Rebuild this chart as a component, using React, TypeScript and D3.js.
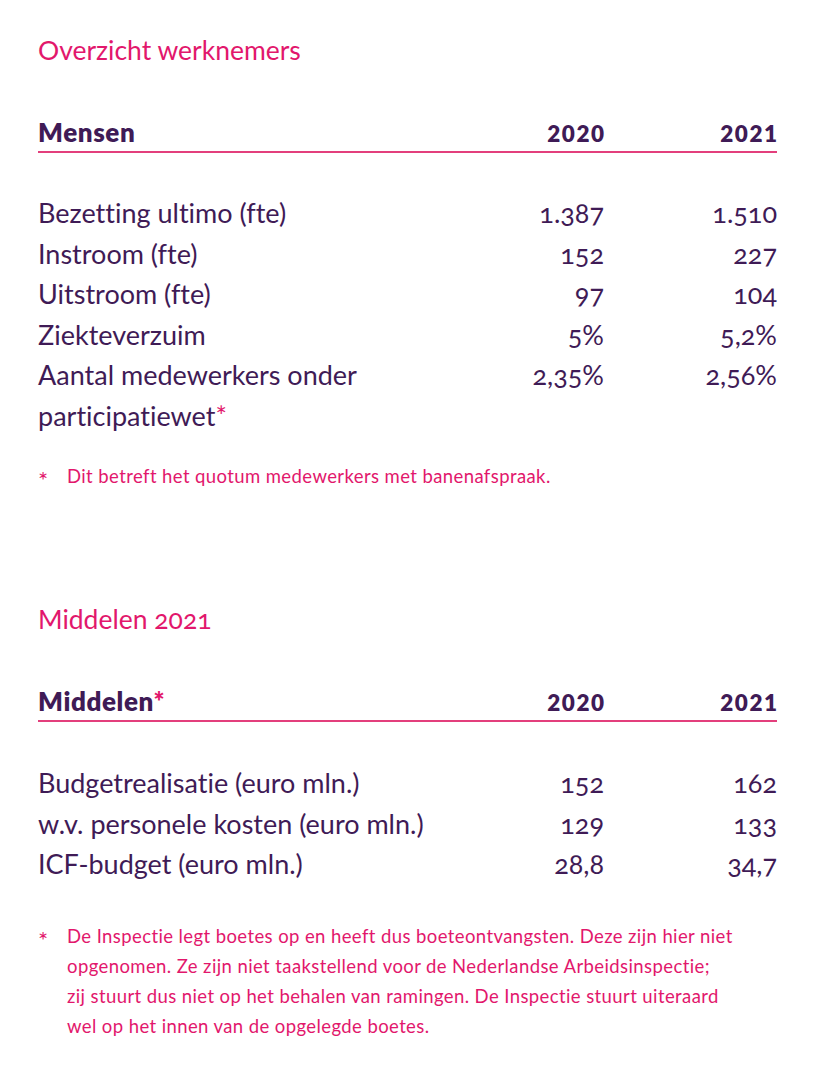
import React from "react";
import * as d3 from "d3";

const title1 = "Overzicht werknemers";
const header1 = "Mensen";
const years = ["2020", "2021"];
const peopleLabels = [
  ["Bezetting ultimo (fte)"],
  ["Instroom (fte)"],
  ["Uitstroom (fte)"],
  ["Ziekteverzuim"],
  ["Aantal medewerkers onder", "participatiewet*"],
];
const people2020 = ["1.387", "152", "97", "5%", "2,35%"];
const people2021 = ["1.510", "227", "104", "5,2%", "2,56%"];
const footnote1 = ["Dit betreft het quotum medewerkers met banenafspraak."];

const title2 = "Middelen 2021";
const header2 = "Middelen*";
const meansLabels = [
  ["Budgetrealisatie (euro mln.)"],
  ["w.v. personele kosten (euro mln.)"],
  ["ICF-budget (euro mln.)"],
];
const means2020 = ["152", "129", "28,8"];
const means2021 = ["162", "133", "34,7"];
const footnote2 = [
  "De Inspectie legt boetes op en heeft dus boeteontvangsten. Deze zijn hier niet",
  "opgenomen. Ze zijn niet taakstellend voor de Nederlandse Arbeidsinspectie;",
  "zij stuurt dus niet op het behalen van ramingen. De Inspectie stuurt uiteraard",
  "wel op het innen van de opgelegde boetes.",
];

const PINK = "#e2176c";
const LINE = "#e33f7c";
const PURPLE = "#3f1b56";
const FONT = "Lato, 'Noto Sans', sans-serif";
const baseStyle: React.CSSProperties = { fontVariantLigatures: "none" };
const onumStyle: React.CSSProperties = {
  fontVariantLigatures: "none",
  fontFeatureSettings: "'onum' 1",
  fontVariantNumeric: "oldstyle-nums",
};

const W = 830;
const H = 1092;
const left = 38;
const right = 777;
const colX = d3.scaleOrdinal<string, number>().domain(years).range([604, 777]);

function renderLabel(text: string, key: string) {
  if (text.endsWith("*")) {
    return (
      <React.Fragment key={key}>
        {text.slice(0, -1)}
        <tspan fill={PINK}>*</tspan>
      </React.Fragment>
    );
  }
  return text;
}

function Section({
  top,
  title,
  header,
  labels,
  v2020,
  v2021,
  notes,
  rowStart,
  noteStart,
}: {
  top: number;
  title: string;
  header: string;
  labels: string[][];
  v2020: string[];
  v2021: string[];
  notes: string[];
  rowStart: number;
  noteStart: number;
}) {
  const lineH = 40.6;
  const starts: number[] = [];
  let acc = 0;
  labels.forEach((l) => {
    starts.push(acc);
    acc += l.length;
  });
  const y = d3.scaleLinear().domain([0, 1]).range([rowStart, rowStart + lineH]);
  const noteY = d3.scaleLinear().domain([0, 1]).range([noteStart, noteStart + 30]);
  return (
    <g>
      <text x={left} y={top} fill={PINK} fontSize={26.5} fontFamily={FONT} style={onumStyle}>
        {title}
      </text>
      <text
        x={left}
        y={top + 82}
        fill={PURPLE}
        fontSize={26}
        fontWeight={800}
        fontFamily={FONT}
        letterSpacing={0.6}
        style={baseStyle}
      >
        {renderLabel(header, "h")}
      </text>
      {years.map((yr) => (
        <text
          key={yr}
          x={colX(yr) + 1.5}
          y={top + 82}
          textAnchor="end"
          fill={PURPLE}
          fontSize={22.5}
          fontWeight={800}
          fontFamily={FONT}
          letterSpacing={1.5}
          style={baseStyle}
        >
          {yr}
        </text>
      ))}
      <line x1={left} x2={right} y1={top + 92} y2={top + 92} stroke={LINE} strokeWidth={2} />
      {labels.map((lines, i) => (
        <g key={i}>
          {lines.map((ln, j) => (
            <text
              key={j}
              x={left}
              y={y(starts[i] + j)}
              fill={PURPLE}
              fontSize={27}
              fontFamily={FONT}
              style={baseStyle}
            >
              {renderLabel(ln, `l${i}${j}`)}
            </text>
          ))}
          <text
            x={colX(years[0])}
            y={y(starts[i])}
            textAnchor="end"
            fill={PURPLE}
            fontSize={27}
            fontFamily={FONT}
            style={onumStyle}
          >
            {v2020[i]}
          </text>
          <text
            x={colX(years[1])}
            y={y(starts[i])}
            textAnchor="end"
            fill={PURPLE}
            fontSize={27}
            fontFamily={FONT}
            style={onumStyle}
          >
            {v2021[i]}
          </text>
        </g>
      ))}
      <text x={left} y={noteStart + 6} fill={PINK} fontSize={24} fontFamily={FONT}>
        *
      </text>
      {notes.map((n, i) => (
        <text
          key={i}
          x={67}
          y={noteY(i)}
          fill={PINK}
          fontSize={18.5}
          fontFamily={FONT}
          letterSpacing={0.4}
          style={baseStyle}
        >
          {n}
        </text>
      ))}
    </g>
  );
}

export default function App() {
  return (
    <svg
      width={W}
      height={H}
      viewBox={`0 0 ${W} ${H}`}
      style={{ position: "absolute", left: 0, top: 0, background: "#fff" }}
    >
      <rect width={W} height={H} fill="#fff" />
      <Section
        top={60}
        title={title1}
        header={header1}
        labels={peopleLabels}
        v2020={people2020}
        v2021={people2021}
        notes={footnote1}
        rowStart={223}
        noteStart={483}
      />
      <Section
        top={629}
        title={title2}
        header={header2}
        labels={meansLabels}
        v2020={means2020}
        v2021={means2021}
        notes={footnote2}
        rowStart={793}
        noteStart={943}
      />
    </svg>
  );
}
